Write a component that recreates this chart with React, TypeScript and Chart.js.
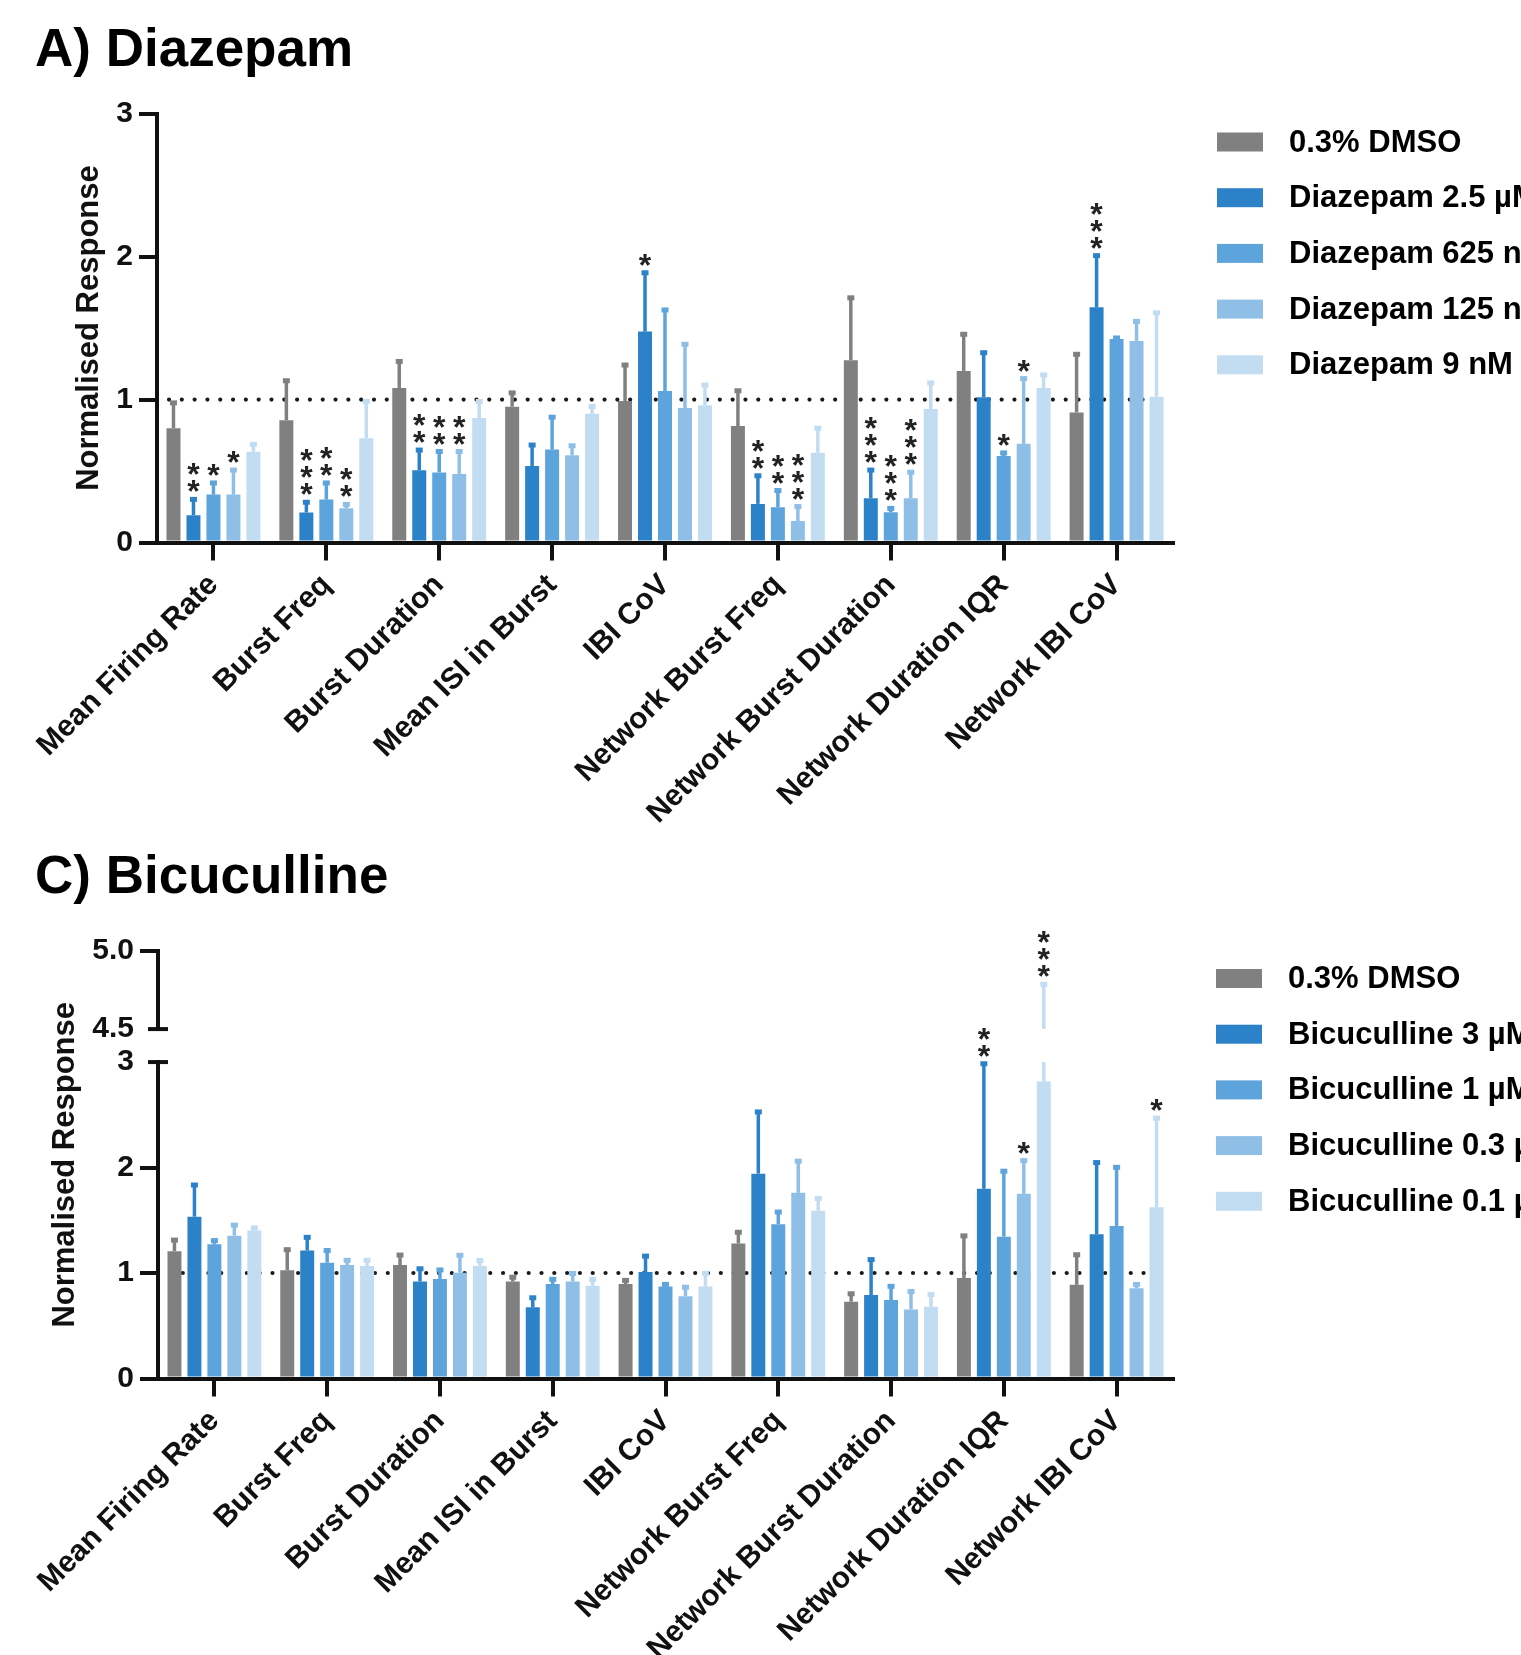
import React, { useEffect, useRef } from 'react';
import { Chart, registerables } from 'chart.js';

Chart.register(...registerables);

const FONT = '"Liberation Sans", Arial, Helvetica, sans-serif';
const INK = '#111111';

// ---------- shared ----------
const categories = [
  'Mean Firing Rate',
  'Burst Freq',
  'Burst Duration',
  'Mean ISI in Burst',
  'IBI CoV',
  'Network Burst Freq',
  'Network Burst Duration',
  'Network Duration IQR',
  'Network IBI CoV',
];
const barColors = ['#808080', '#2c82c9', '#5da3dc', '#8fbfe7', '#c2dcf2'];

// ---------- Panel A: Diazepam ----------
const diazepamTitle = 'A) Diazepam';
const diazepamLabels = ['0.3% DMSO', 'Diazepam 2.5 µM', 'Diazepam 625 nM', 'Diazepam 125 nM', 'Diazepam 9 nM'];
const diazDMSO = [0.80, 0.855, 1.08, 0.95, 0.99, 0.815, 1.275, 1.20, 0.91];
const diaz2500 = [0.19, 0.21, 0.505, 0.535, 1.475, 0.27, 0.31, 1.016, 1.645];
const diaz625 = [0.335, 0.30, 0.49, 0.65, 1.06, 0.247, 0.212, 0.605, 1.424];
const diaz125 = [0.335, 0.24, 0.48, 0.61, 0.94, 0.15, 0.31, 0.69, 1.41];
const diaz9 = [0.635, 0.73, 0.87, 0.90, 0.96, 0.628, 0.934, 1.08, 1.02];

const diazDMSOErr = [0.18, 0.28, 0.19, 0.10, 0.255, 0.25, 0.44, 0.26, 0.41];
const diaz2500Err = [0.115, 0.075, 0.145, 0.15, 0.415, 0.20, 0.20, 0.315, 0.365];
const diaz625Err = [0.085, 0.12, 0.15, 0.23, 0.57, 0.12, 0.03, 0.025, 0.01];
const diaz125Err = [0.175, 0.03, 0.16, 0.07, 0.45, 0.105, 0.185, 0.46, 0.14];
const diaz9Err = [0.055, 0.26, 0.12, 0.055, 0.145, 0.175, 0.185, 0.095, 0.59];

const diazDMSOStars = ['', '', '', '', '', '', '', '', ''];
const diaz2500Stars = ['**', '***', '**', '', '*', '**', '***', '', '***'];
const diaz625Stars = ['*', '**', '**', '', '', '**', '***', '*', ''];
const diaz125Stars = ['*', '**', '**', '', '', '***', '***', '*', ''];
const diaz9Stars = ['', '', '', '', '', '', '', '', ''];

const diazYTicks = [0, 1, 2, 3];

// ---------- Panel C: Bicuculline ----------
const bicTitle = 'C) Bicuculline';
const bicLabels = ['0.3% DMSO', 'Bicuculline 3 µM', 'Bicuculline 1 µM', 'Bicuculline 0.3 µM', 'Bicuculline 0.1 µM'];
const bicDMSO = [1.207, 1.026, 1.075, 0.92, 0.895, 1.281, 0.728, 0.952, 0.888];
const bic3 = [1.534, 1.213, 0.92, 0.675, 1.01, 1.942, 0.792, 1.799, 1.367];
const bic1 = [1.272, 1.098, 0.944, 0.895, 0.872, 1.463, 0.744, 1.345, 1.447];
const bic03 = [1.354, 1.075, 1.003, 0.92, 0.78, 1.76, 0.655, 1.751, 0.856];
const bic01 = [1.403, 1.066, 1.069, 0.879, 0.872, 1.591, 0.68, 2.815, 1.623];

const bicDMSOErr = [0.11, 0.20, 0.10, 0.045, 0.04, 0.11, 0.08, 0.405, 0.29];
const bic3Err = [0.305, 0.13, 0.125, 0.095, 0.155, 0.59, 0.34, 1.19, 0.685];
const bic1Err = [0.04, 0.12, 0.09, 0.05, 0.025, 0.12, 0.135, 0.625, 0.56];
const bic03Err = [0.105, 0.05, 0.17, 0.08, 0.09, 0.305, 0.175, 0.32, 0.04];
const bic01Err = [0.03, 0.06, 0.055, 0.065, 0.13, 0.12, 0.12, 1.975, 0.85];

const bicDMSOStars = ['', '', '', '', '', '', '', '', ''];
const bic3Stars = ['', '', '', '', '', '', '', '**', ''];
const bic1Stars = ['', '', '', '', '', '', '', '', ''];
const bic03Stars = ['', '', '', '', '', '', '', '*', ''];
const bic01Stars = ['', '', '', '', '', '', '', '***', '*'];

const bicLowTicks = [0, 1, 2, 3];
const bicHighTicks = [4.5, 5.0];

const yTitleText = 'Normalised Response';

// ---------- plugins ----------
const errorBarsPlugin = {
  id: 'errorBars',
  afterDatasetsDraw(chart: any, _args: any, opts: any) {
    const ctx = chart.ctx;
    const low = chart.scales[opts.lowId];
    const high = opts.highId ? chart.scales[opts.highId] : null;
    chart.data.datasets.forEach((ds: any, i: number) => {
      const meta = chart.getDatasetMeta(i);
      const errs = opts.errors[i];
      const stars = opts.stars[i];
      meta.data.forEach((bar: any, j: number) => {
        const mean = ds.data[j];
        const topVal = mean + errs[j];
        const x = bar.x;
        ctx.save();
        ctx.strokeStyle = ds.backgroundColor;
        ctx.fillStyle = ds.backgroundColor;
        ctx.lineWidth = 3.5;
        let capY: number;
        ctx.beginPath();
        if (high && topVal > low.max) {
          ctx.moveTo(x, bar.y);
          ctx.lineTo(x, low.getPixelForValue(low.max));
          ctx.moveTo(x, high.getPixelForValue(high.min));
          capY = high.getPixelForValue(topVal);
          ctx.lineTo(x, capY);
        } else {
          capY = low.getPixelForValue(topVal);
          ctx.moveTo(x, bar.y);
          ctx.lineTo(x, capY);
        }
        ctx.stroke();
        ctx.fillRect(x - 3.5, capY - 2, 7, 5);
        const s = stars[j];
        if (s) {
          ctx.fillStyle = '#222222';
          ctx.font = `bold 32px ${FONT}`;
          ctx.textAlign = 'center';
          ctx.textBaseline = 'alphabetic';
          for (let k = 0; k < s.length; k++) {
            const cy = capY - 15 - k * 17;
            ctx.fillText('*', x, cy + 18.5);
          }
        }
        ctx.restore();
      });
    });
  },
};

const refLinePlugin = {
  id: 'refLine',
  beforeDatasetsDraw(chart: any, _args: any, opts: any) {
    const ctx = chart.ctx;
    const s = chart.scales[opts.scaleId];
    const y = s.getPixelForValue(opts.value);
    const { left, right } = chart.chartArea;
    ctx.save();
    ctx.setLineDash([0.01, 12.8]);
    ctx.lineCap = 'round';
    ctx.lineWidth = 4.2;
    ctx.strokeStyle = '#1a1a1a';
    ctx.beginPath();
    ctx.moveTo(left + 12, y);
    ctx.lineTo(right - 15, y);
    ctx.stroke();
    ctx.restore();
  },
};

const sideLegendPlugin = {
  id: 'sideLegend',
  afterDraw(chart: any, _args: any, opts: any) {
    const ctx = chart.ctx;
    ctx.save();
    ctx.font = `bold 31px ${FONT}`;
    ctx.textBaseline = 'middle';
    ctx.textAlign = 'left';
    chart.data.datasets.forEach((ds: any, i: number) => {
      const cy = opts.y + i * opts.step;
      ctx.fillStyle = ds.backgroundColor;
      ctx.fillRect(opts.x, cy - 9.5, 46, 19);
      ctx.fillStyle = '#000000';
      ctx.fillText(ds.label, opts.x + 72, cy + 1);
    });
    ctx.restore();
  },
};

const stackTitlePlugin = {
  id: 'stackTitle',
  afterDraw(chart: any, _args: any, opts: any) {
    const ctx = chart.ctx;
    const top = chart.scales[opts.topId].top;
    const bottom = chart.scales[opts.bottomId].bottom;
    ctx.save();
    ctx.translate(opts.x, (top + bottom) / 2);
    ctx.rotate(-Math.PI / 2);
    ctx.font = `bold 31px ${FONT}`;
    ctx.fillStyle = INK;
    ctx.textAlign = 'center';
    ctx.textBaseline = 'middle';
    ctx.fillText(opts.text, 0, 0);
    ctx.restore();
  },
};

const axisBreakPlugin = {
  id: 'axisBreak',
  afterDraw(chart: any, _args: any, opts: any) {
    const ctx = chart.ctx;
    const hi = chart.scales[opts.highId];
    const lo = chart.scales[opts.lowId];
    const x = lo.right;
    ctx.save();
    ctx.strokeStyle = INK;
    ctx.lineWidth = 4;
    [hi.getPixelForValue(hi.min), lo.getPixelForValue(lo.max)].forEach((y: number) => {
      ctx.beginPath();
      ctx.moveTo(x - 10, y);
      ctx.lineTo(x + 10, y);
      ctx.stroke();
    });
    ctx.restore();
  },
};

// ---------- scale helpers ----------
const tickFont = { family: FONT, size: 30, weight: 'bold' as const };

function xScale(height: number) {
  return {
    type: 'category',
    offset: true,
    grid: {
      display: true,
      drawOnChartArea: false,
      offset: false,
      tickLength: 18,
      tickWidth: 4,
      tickColor: INK,
      lineWidth: 4,
      color: INK,
    },
    border: { display: true, color: INK, width: 4 },
    ticks: {
      autoSkip: false,
      minRotation: 45,
      maxRotation: 45,
      padding: 7,
      color: INK,
      font: tickFont,
    },
    afterFit: (s: any) => {
      s.height = height;
    },
  };
}

function yGrid(hidden: number[]) {
  return {
    display: true,
    drawOnChartArea: false,
    tickLength: 18,
    tickWidth: 4,
    lineWidth: 4,
    color: INK,
    tickColor: (c: any) => (c.tick && hidden.includes(c.tick.value) ? 'rgba(0,0,0,0)' : INK),
  };
}

function bars(labels: string[], series: number[][], yAxisID: string) {
  return series.map((d, i) => ({
    label: labels[i],
    data: d,
    backgroundColor: barColors[i],
    borderWidth: 0,
    barPercentage: 0.7,
    categoryPercentage: 0.885,
    yAxisID,
  }));
}

function titleOpts(text: string, top: number, bottom: number) {
  return {
    display: true,
    text,
    align: 'start',
    color: '#000000',
    font: { family: FONT, size: 53, weight: 'bold', lineHeight: 1.2 },
    padding: { top, bottom },
  };
}

// ---------- configs ----------
function diazepamConfig(): any {
  return {
    type: 'bar',
    data: {
      labels: categories,
      datasets: bars(diazepamLabels, [diazDMSO, diaz2500, diaz625, diaz125, diaz9], 'y'),
    },
    options: {
      responsive: false,
      animation: false,
      devicePixelRatio: 1,
      layout: { padding: { left: 35, right: 348, top: 0, bottom: 0 } },
      plugins: {
        legend: { display: false },
        tooltip: { enabled: false },
        title: titleOpts(diazepamTitle, 20, 30),
        errorBars: {
          lowId: 'y',
          errors: [diazDMSOErr, diaz2500Err, diaz625Err, diaz125Err, diaz9Err],
          stars: [diazDMSOStars, diaz2500Stars, diaz625Stars, diaz125Stars, diaz9Stars],
        },
        refLine: { scaleId: 'y', value: 1 },
        sideLegend: { x: 1217, y: 142, step: 55.7 },
      },
      scales: {
        x: xScale(297.5),
        y: {
          type: 'linear',
          position: 'left',
          min: 0,
          max: 3,
          afterBuildTicks: (s: any) => {
            s.ticks = diazYTicks.map((v) => ({ value: v }));
          },
          ticks: { color: INK, font: tickFont, padding: 6, callback: (v: any) => String(v) },
          grid: yGrid([]),
          border: { display: true, color: INK, width: 4 },
          title: {
            display: true,
            text: yTitleText,
            color: INK,
            font: { family: FONT, size: 31, weight: 'bold', lineHeight: 1.2 },
            padding: { top: 36, bottom: 0 },
          },
          afterFit: (s: any) => {
            s.width = 122;
          },
        },
      },
    },
    plugins: [refLinePlugin, errorBarsPlugin, sideLegendPlugin],
  };
}

function bicucullineConfig(): any {
  const yw = (s: any) => {
    s.width = 123;
  };
  return {
    type: 'bar',
    data: {
      labels: categories,
      datasets: bars(bicLabels, [bicDMSO, bic3, bic1, bic03, bic01], 'yLow'),
    },
    options: {
      responsive: false,
      animation: false,
      devicePixelRatio: 1,
      layout: { padding: { left: 35, right: 348, top: 0, bottom: 0 } },
      plugins: {
        legend: { display: false },
        tooltip: { enabled: false },
        title: titleOpts(bicTitle, 7, 40.5),
        errorBars: {
          lowId: 'yLow',
          highId: 'yTop',
          errors: [bicDMSOErr, bic3Err, bic1Err, bic03Err, bic01Err],
          stars: [bicDMSOStars, bic3Stars, bic1Stars, bic03Stars, bic01Stars],
        },
        refLine: { scaleId: 'yLow', value: 1 },
        sideLegend: { x: 1216, y: 138.5, step: 55.7 },
        stackTitle: { text: yTitleText, x: 65, topId: 'yTop', bottomId: 'yLow' },
        axisBreak: { highId: 'yTop', lowId: 'yLow' },
      },
      scales: {
        x: xScale(361.5),
        yTop: {
          type: 'linear',
          position: 'left',
          stack: 'v',
          stackWeight: 78,
          weight: 3,
          min: 4.5,
          max: 5.0,
          afterBuildTicks: (s: any) => {
            s.ticks = bicHighTicks.map((v) => ({ value: v }));
          },
          ticks: { color: INK, font: tickFont, padding: 6, callback: (v: any) => Number(v).toFixed(1) },
          grid: yGrid([4.5]),
          border: { display: true, color: INK, width: 4 },
          afterFit: yw,
        },
        yGap: {
          type: 'linear',
          position: 'left',
          stack: 'v',
          stackWeight: 33,
          weight: 2,
          min: 0,
          max: 1,
          ticks: { display: false },
          grid: { display: false },
          border: { display: false },
          afterFit: yw,
        },
        yLow: {
          type: 'linear',
          position: 'left',
          stack: 'v',
          stackWeight: 316.5,
          weight: 1,
          min: 0,
          max: 3,
          afterBuildTicks: (s: any) => {
            s.ticks = bicLowTicks.map((v) => ({ value: v }));
          },
          ticks: { color: INK, font: tickFont, padding: 6, callback: (v: any) => String(v) },
          grid: yGrid([3]),
          border: { display: true, color: INK, width: 4 },
          afterFit: yw,
        },
      },
    },
    plugins: [refLinePlugin, errorBarsPlugin, sideLegendPlugin, stackTitlePlugin, axisBreakPlugin],
  };
}

// ---------- components ----------
function ChartPanel({ makeConfig, top, height }: { makeConfig: () => any; top: number; height: number }) {
  const ref = useRef<HTMLCanvasElement | null>(null);
  useEffect(() => {
    if (!ref.current) return;
    const chart = new Chart(ref.current, makeConfig());
    return () => chart.destroy();
  }, [makeConfig]);
  return (
    <canvas
      ref={ref}
      width={1521}
      height={height}
      style={{ position: 'absolute', left: 0, top, width: 1521, height, display: 'block' }}
    />
  );
}

export default function App() {
  return (
    <div
      style={{
        position: 'fixed',
        left: 0,
        top: 0,
        width: 1521,
        height: 1655,
        overflow: 'hidden',
        background: '#ffffff',
      }}
    >
      <ChartPanel makeConfig={diazepamConfig} top={0} height={840} />
      <ChartPanel makeConfig={bicucullineConfig} top={840} height={900} />
    </div>
  );
}
